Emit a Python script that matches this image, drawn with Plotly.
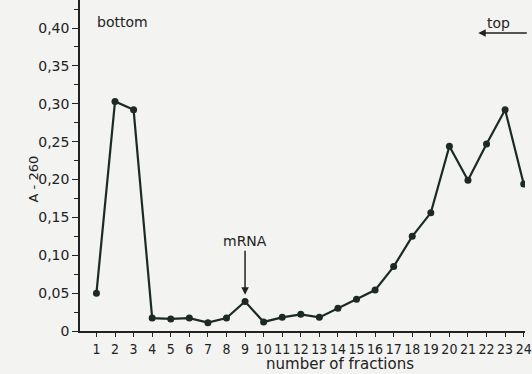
import plotly.graph_objects as go

# Absorbance at 260 nm for each gradient fraction
fractions = list(range(1, 25))
a260 = [0.050, 0.303, 0.292, 0.017, 0.016, 0.017, 0.011, 0.017, 0.039, 0.012,
        0.018, 0.022, 0.018, 0.030, 0.042, 0.054, 0.085, 0.125, 0.156, 0.244,
        0.199, 0.247, 0.292, 0.194]

y_tickvals = [0, 0.05, 0.10, 0.15, 0.20, 0.25, 0.30, 0.35, 0.40]
y_ticktext = ["0", "0,05", "0,10", "0,15", "0,20", "0,25", "0,30", "0,35", "0,40"]

ink = "#1c2a24"
txt = "#222222"
font = "DejaVu Sans, Liberation Sans, sans-serif"
tick_font = "DejaVu Sans Condensed, Liberation Sans Narrow, sans-serif"

fig = go.Figure()
fig.add_trace(go.Scatter(
    x=fractions, y=a260, mode="lines+markers",
    line=dict(color=ink, width=2.2),
    marker=dict(color=ink, size=7),
    hoverinfo="skip", showlegend=False,
))

fig.update_layout(
    width=532, height=374,
    margin=dict(l=80, r=0, t=0, b=43),
    paper_bgcolor="#f3f3f1", plot_bgcolor="#f3f3f1",
    font=dict(family=font, size=14, color=txt),
    xaxis=dict(
        range=[0.115, 24.07], tickvals=fractions, tickangle=0,
        ticks="outside", ticklen=4, tickwidth=1, tickcolor=txt,
        showline=True, linecolor=txt, linewidth=1.5,
        showgrid=False, zeroline=False,
        tickfont=dict(family=tick_font, size=14),
        ticklabeloverflow="allow",
    ),
    yaxis=dict(
        range=[0, 0.437], tickvals=y_tickvals, ticktext=y_ticktext,
        ticks="outside", ticklen=6, tickwidth=1, tickcolor=txt,
        minor=dict(tickvals=[0.025, 0.075, 0.125, 0.175, 0.225, 0.275, 0.325, 0.375, 0.425],
                   ticks="outside", ticklen=4, tickcolor=txt),
        showline=True, linecolor=txt, linewidth=1.5,
        showgrid=False, zeroline=False,
        tickfont=dict(family=font, size=14),
    ),
)

# axis titles
fig.add_annotation(text="A - 260", xref="paper", yref="paper", x=-0.104, y=0.46,
                   textangle=-90, showarrow=False, font=dict(size=13, color=txt),
                   xanchor="center", yanchor="middle")
fig.add_annotation(text="number of fractions", xref="paper", yref="paper", x=0.585, y=-0.13,
                   showarrow=False, font=dict(size=15, color=txt),
                   xanchor="center", yanchor="bottom", borderpad=0)

# gradient direction labels
fig.add_annotation(text="bottom", xref="paper", yref="paper", x=0.033, y=0.935,
                   showarrow=False, font=dict(size=14, color=txt),
                   xanchor="left", yanchor="middle")
fig.add_annotation(text="top", xref="paper", yref="paper", x=0.94, y=0.93,
                   showarrow=False, font=dict(size=14, color=txt),
                   xanchor="center", yanchor="middle")
fig.add_annotation(x=0.895, y=0.90, ax=50, ay=0, xref="paper", yref="paper",
                   text="", showarrow=True,
                   arrowhead=2, arrowsize=1, arrowwidth=1.5, arrowcolor=txt)

# mRNA peak marker
fig.add_annotation(x=9, y=0.048, text="mRNA", showarrow=True, ax=0, ay=-44,
                   arrowhead=2, arrowsize=1, arrowwidth=1.5, arrowcolor=txt,
                   font=dict(size=14, color=txt), yanchor="bottom")

fig.write_html("out.html")
